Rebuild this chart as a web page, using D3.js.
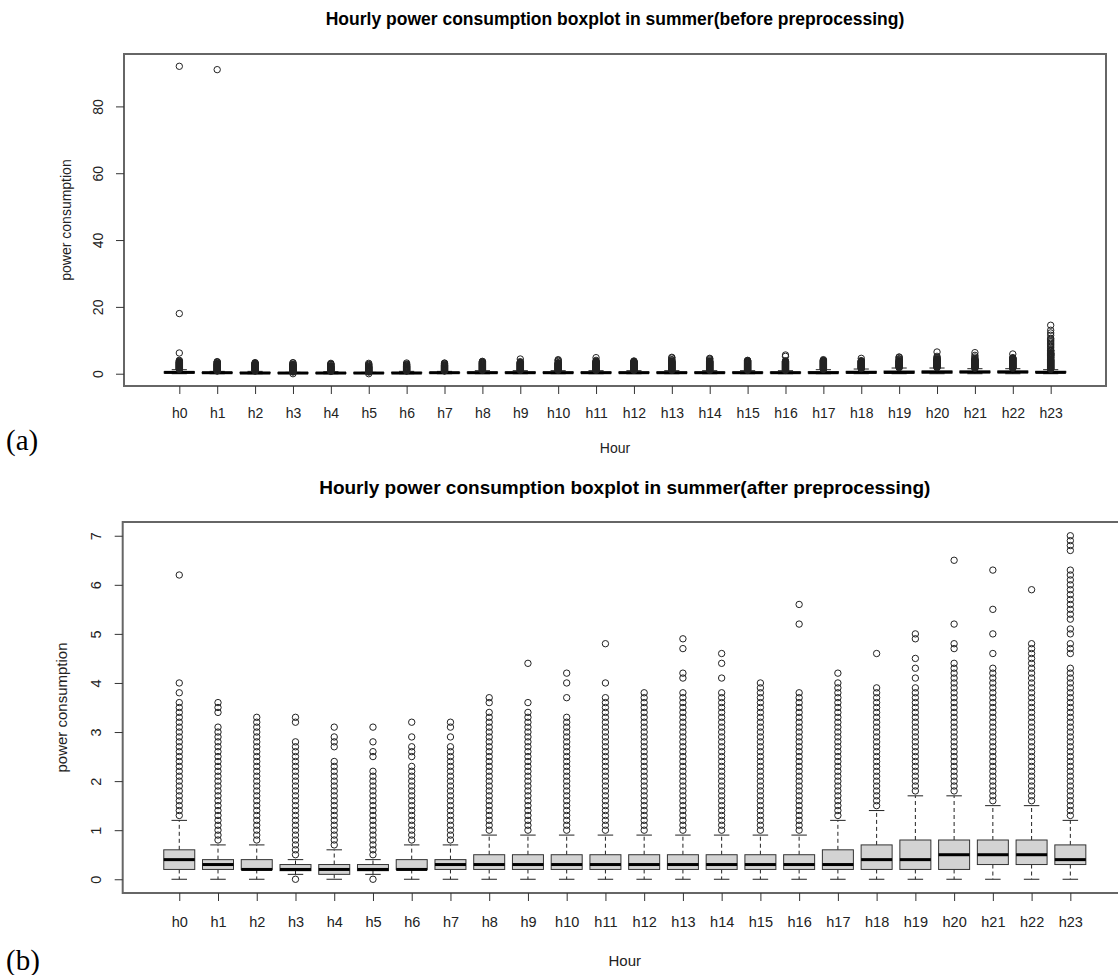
<!DOCTYPE html>
<html>
<head>
<meta charset="utf-8">
<script src="https://cdn.jsdelivr.net/npm/d3@7"></script>
<style>
  body { margin: 0; background: #fff; }
  svg { display: block; font-family: "Liberation Sans", Arial, sans-serif; }
</style>
</head>
<body>
<svg id="chart" width="1118" height="975"></svg>
<script>
// hourly summer consumption, box stats
const hours = ["h0","h1","h2","h3","h4","h5","h6","h7","h8","h9","h10","h11",
               "h12","h13","h14","h15","h16","h17","h18","h19","h20","h21","h22","h23"];

const whiskerLow  = [0, 0, 0, 0.1, 0, 0.1, 0, 0, 0, 0, 0, 0, 0, 0, 0, 0, 0, 0, 0, 0, 0, 0, 0, 0];
const q1          = [0.2, 0.2, 0.2, 0.175, 0.1, 0.175, 0.2, 0.2, 0.2, 0.2, 0.2, 0.2, 0.2, 0.2, 0.2, 0.2, 0.2, 0.2, 0.2, 0.2, 0.2, 0.3, 0.3, 0.3];
const median      = [0.4, 0.3, 0.2, 0.2, 0.2, 0.2, 0.2, 0.3, 0.3, 0.3, 0.3, 0.3, 0.3, 0.3, 0.3, 0.3, 0.3, 0.3, 0.4, 0.4, 0.5, 0.5, 0.5, 0.4];
const q3          = [0.6, 0.4, 0.4, 0.3, 0.3, 0.3, 0.4, 0.4, 0.5, 0.5, 0.5, 0.5, 0.5, 0.5, 0.5, 0.5, 0.5, 0.6, 0.7, 0.8, 0.8, 0.8, 0.8, 0.7];
const whiskerHigh = [1.2, 0.7, 0.7, 0.4, 0.6, 0.4, 0.7, 0.7, 0.9, 0.9, 0.9, 0.9, 0.9, 0.9, 0.9, 0.9, 0.9, 1.2, 1.4, 1.7, 1.7, 1.5, 1.5, 1.2];

// outliers after preprocessing (panel b)
const outliersAfter = [
  [1.3,1.4,1.5,1.6,1.7,1.8,1.9,2.0,2.1,2.2,2.3,2.4,2.5,2.6,2.7,2.8,2.9,3.0,3.1,3.2,3.3,3.4,3.5,3.6,3.8,4.0,6.2],
  [0.8,0.9,1.0,1.1,1.2,1.3,1.4,1.5,1.6,1.7,1.8,1.9,2.0,2.1,2.2,2.3,2.4,2.5,2.6,2.7,2.8,2.9,3.0,3.1,3.4,3.5,3.6],
  [0.8,0.9,1.0,1.1,1.2,1.3,1.4,1.5,1.6,1.7,1.8,1.9,2.0,2.1,2.2,2.3,2.4,2.5,2.6,2.7,2.8,2.9,3.0,3.1,3.2,3.3],
  [0,0.5,0.6,0.7,0.8,0.9,1.0,1.1,1.2,1.3,1.4,1.5,1.6,1.7,1.8,1.9,2.0,2.1,2.2,2.3,2.4,2.5,2.6,2.7,2.8,3.2,3.3],
  [0.7,0.8,0.9,1.0,1.1,1.2,1.3,1.4,1.5,1.6,1.7,1.8,1.9,2.0,2.1,2.2,2.3,2.4,2.7,2.8,2.9,3.1],
  [0,0.5,0.6,0.7,0.8,0.9,1.0,1.1,1.2,1.3,1.4,1.5,1.6,1.7,1.8,1.9,2.0,2.1,2.2,2.5,2.6,2.8,3.1],
  [0.8,0.9,1.0,1.1,1.2,1.3,1.4,1.5,1.6,1.7,1.8,1.9,2.0,2.1,2.2,2.3,2.5,2.6,2.7,2.9,3.2],
  [0.8,0.9,1.0,1.1,1.2,1.3,1.4,1.5,1.6,1.7,1.8,1.9,2.0,2.1,2.2,2.3,2.4,2.5,2.6,2.7,2.9,3.1,3.2],
  [1.0,1.1,1.2,1.3,1.4,1.5,1.6,1.7,1.8,1.9,2.0,2.1,2.2,2.3,2.4,2.5,2.6,2.7,2.8,2.9,3.0,3.1,3.2,3.3,3.4,3.6,3.7],
  [1.0,1.1,1.2,1.3,1.4,1.5,1.6,1.7,1.8,1.9,2.0,2.1,2.2,2.3,2.4,2.5,2.6,2.7,2.8,2.9,3.0,3.1,3.2,3.3,3.4,3.6,4.4],
  [1.0,1.1,1.2,1.3,1.4,1.5,1.6,1.7,1.8,1.9,2.0,2.1,2.2,2.3,2.4,2.5,2.6,2.7,2.8,2.9,3.0,3.1,3.2,3.3,3.7,4.0,4.2],
  [1.0,1.1,1.2,1.3,1.4,1.5,1.6,1.7,1.8,1.9,2.0,2.1,2.2,2.3,2.4,2.5,2.6,2.7,2.8,2.9,3.0,3.1,3.2,3.3,3.4,3.5,3.6,3.7,4.0,4.8],
  [1.0,1.1,1.2,1.3,1.4,1.5,1.6,1.7,1.8,1.9,2.0,2.1,2.2,2.3,2.4,2.5,2.6,2.7,2.8,2.9,3.0,3.1,3.2,3.3,3.4,3.5,3.6,3.7,3.8],
  [1.0,1.1,1.2,1.3,1.4,1.5,1.6,1.7,1.8,1.9,2.0,2.1,2.2,2.3,2.4,2.5,2.6,2.7,2.8,2.9,3.0,3.1,3.2,3.3,3.4,3.5,3.6,3.7,3.8,4.1,4.2,4.7,4.9],
  [1.0,1.1,1.2,1.3,1.4,1.5,1.6,1.7,1.8,1.9,2.0,2.1,2.2,2.3,2.4,2.5,2.6,2.7,2.8,2.9,3.0,3.1,3.2,3.3,3.4,3.5,3.6,3.7,3.8,4.1,4.4,4.6],
  [1.0,1.1,1.2,1.3,1.4,1.5,1.6,1.7,1.8,1.9,2.0,2.1,2.2,2.3,2.4,2.5,2.6,2.7,2.8,2.9,3.0,3.1,3.2,3.3,3.4,3.5,3.6,3.7,3.8,3.9,4.0],
  [1.0,1.1,1.2,1.3,1.4,1.5,1.6,1.7,1.8,1.9,2.0,2.1,2.2,2.3,2.4,2.5,2.6,2.7,2.8,2.9,3.0,3.1,3.2,3.3,3.4,3.5,3.6,3.7,3.8,5.2,5.6],
  [1.3,1.4,1.5,1.6,1.7,1.8,1.9,2.0,2.1,2.2,2.3,2.4,2.5,2.6,2.7,2.8,2.9,3.0,3.1,3.2,3.3,3.4,3.5,3.6,3.7,3.8,3.9,4.0,4.2],
  [1.5,1.6,1.7,1.8,1.9,2.0,2.1,2.2,2.3,2.4,2.5,2.6,2.7,2.8,2.9,3.0,3.1,3.2,3.3,3.4,3.5,3.6,3.7,3.8,3.9,4.6],
  [1.8,1.9,2.0,2.1,2.2,2.3,2.4,2.5,2.6,2.7,2.8,2.9,3.0,3.1,3.2,3.3,3.4,3.5,3.6,3.7,3.8,3.9,4.1,4.3,4.5,4.9,5.0],
  [1.8,1.9,2.0,2.1,2.2,2.3,2.4,2.5,2.6,2.7,2.8,2.9,3.0,3.1,3.2,3.3,3.4,3.5,3.6,3.7,3.8,3.9,4.0,4.1,4.2,4.3,4.4,4.7,4.8,5.2,6.5],
  [1.6,1.7,1.8,1.9,2.0,2.1,2.2,2.3,2.4,2.5,2.6,2.7,2.8,2.9,3.0,3.1,3.2,3.3,3.4,3.5,3.6,3.7,3.8,3.9,4.0,4.1,4.2,4.3,4.6,5.0,5.5,6.3],
  [1.6,1.7,1.8,1.9,2.0,2.1,2.2,2.3,2.4,2.5,2.6,2.7,2.8,2.9,3.0,3.1,3.2,3.3,3.4,3.5,3.6,3.7,3.8,3.9,4.0,4.1,4.2,4.3,4.4,4.5,4.6,4.7,4.8,5.9],
  [1.3,1.4,1.5,1.6,1.7,1.8,1.9,2.0,2.1,2.2,2.3,2.4,2.5,2.6,2.7,2.8,2.9,3.0,3.1,3.2,3.3,3.4,3.5,3.6,3.7,3.8,3.9,4.0,4.1,4.2,4.3,
   4.6,4.7,4.8,5.0,5.1,5.3,5.4,5.5,5.6,5.7,5.8,5.9,6.0,6.1,6.2,6.3,6.7,6.8,6.9,7.0]
];

// extreme values that only appear before preprocessing (panel a)
const removedByPreprocessing = [
  [18, 92], [91], [], [], [], [], [], [], [], [], [], [],
  [], [], [], [], [], [], [], [], [], [], [],
  [7.4, 7.9, 8.3, 8.7, 9.1, 9.5, 9.9, 10.3, 10.6, 11.5, 12.2, 13.0, 14.5]
];

const yTicksBefore = [0, 20, 40, 60, 80];
const yTicksAfter = [0, 1, 2, 3, 4, 5, 6, 7];

const svg = d3.select("#chart");
svg.append("rect").attr("width", 1118).attr("height", 975).attr("fill", "#fff");

const panels = [
  {
    outliers: outliersAfter.map((d, i) => d.concat(removedByPreprocessing[i])),
    yTicks: yTicksBefore,
    left: 124, right: 1106, top: 54, bottom: 386,
    title: "Hourly power consumption boxplot in summer(before preprocessing)",
    titleSize: 17.5, titleY: 25, labelSize: 14, tickSize: 14,
    hourY: 453, yTitleX: 71, xTickPad: 14, yTickX: 21,
    tag: "(a)", tagY: 450
  },
  {
    outliers: outliersAfter,
    yTicks: yTicksAfter,
    left: 122.7, right: 1126.9, top: 522, bottom: 893,
    title: "Hourly power consumption boxplot in summer(after preprocessing)",
    titleSize: 19, titleY: 494, labelSize: 15, tickSize: 14.5,
    hourY: 966, yTitleX: 67, xTickPad: 16, yTickX: 22,
    tag: "(b)", tagY: 970
  }
];

panels.forEach(p => drawPanel(p));

function drawPanel(p) {
  const g = svg.append("g");

  // R style: 1..24 with 4% extension of [0.5, 24.5]
  const x = d3.scaleLinear().domain([-0.46, 25.46]).range([p.left, p.right]);

  const allVals = p.outliers.flat().concat(whiskerLow, whiskerHigh);
  const [lo, hi] = d3.extent(allVals);
  const pad = (hi - lo) * 0.04;
  const y = d3.scaleLinear().domain([lo - pad, hi + pad]).range([p.bottom, p.top]);

  const boxes = g.selectAll(".box")
    .data(hours.map((h, i) => ({
      h, pos: i + 1, lo: whiskerLow[i], q1: q1[i], med: median[i],
      q3: q3[i], hi: whiskerHigh[i], out: p.outliers[i]
    })))
    .enter().append("g").attr("class", "box");

  // whiskers
  boxes.append("line")
    .attr("x1", d => x(d.pos)).attr("x2", d => x(d.pos))
    .attr("y1", d => y(d.q3)).attr("y2", d => y(d.hi))
    .attr("stroke", "#222").attr("stroke-dasharray", "4,3");
  boxes.append("line")
    .attr("x1", d => x(d.pos)).attr("x2", d => x(d.pos))
    .attr("y1", d => y(d.q1)).attr("y2", d => y(d.lo))
    .attr("stroke", "#222").attr("stroke-dasharray", "4,3");

  // staples
  [d => d.hi, d => d.lo].forEach(f => {
    boxes.append("line")
      .attr("x1", d => x(d.pos - 0.2)).attr("x2", d => x(d.pos + 0.2))
      .attr("y1", d => y(f(d))).attr("y2", d => y(f(d)))
      .attr("stroke", "#222");
  });

  boxes.append("rect")
    .attr("x", d => x(d.pos - 0.4))
    .attr("width", d => x(d.pos + 0.4) - x(d.pos - 0.4))
    .attr("y", d => y(d.q3))
    .attr("height", d => Math.max(y(d.q1) - y(d.q3), 0.5))
    .attr("fill", "#d3d3d3").attr("stroke", "#333");

  boxes.append("line")
    .attr("x1", d => x(d.pos - 0.4)).attr("x2", d => x(d.pos + 0.4))
    .attr("y1", d => y(d.med)).attr("y2", d => y(d.med))
    .attr("stroke", "#000").attr("stroke-width", 3);

  boxes.selectAll("circle")
    .data(d => d.out.map(v => ({ pos: d.pos, v })))
    .enter().append("circle")
    .attr("cx", d => x(d.pos))
    .attr("cy", d => y(d.v))
    .attr("r", 3.2)
    .attr("fill", "none").attr("stroke", "#222").attr("stroke-width", 1);

  // plot frame
  g.append("rect")
    .attr("x", p.left).attr("y", p.top)
    .attr("width", p.right - p.left).attr("height", p.bottom - p.top)
    .attr("fill", "none").attr("stroke", "#666").attr("stroke-width", 2);

  // x axis
  const xa = g.append("g")
    .attr("transform", `translate(0,${p.bottom})`)
    .call(d3.axisBottom(x).tickValues(d3.range(1, 25))
      .tickFormat(d => hours[d - 1]).tickSize(8).tickPadding(p.xTickPad));
  xa.select(".domain").remove();
  xa.selectAll("line").attr("stroke", "#333");
  xa.selectAll("text").style("font-size", p.tickSize + "px").attr("fill", "#222");

  // y axis, labels parallel to the axis
  const ya = g.append("g")
    .attr("transform", `translate(${p.left},0)`)
    .call(d3.axisLeft(y).tickValues(p.yTicks).tickSize(8));
  ya.select(".domain").remove();
  ya.selectAll("line").attr("stroke", "#333");
  ya.selectAll("text")
    .attr("x", null).attr("dy", null)
    .attr("text-anchor", "middle")
    .attr("transform", `translate(${-p.yTickX},0) rotate(-90)`)
    .style("font-size", p.tickSize + "px").attr("fill", "#222");

  // titles
  svg.append("text")
    .attr("x", (p.left + p.right) / 2).attr("y", p.titleY)
    .attr("text-anchor", "middle")
    .style("font-size", p.titleSize + "px").style("font-weight", "bold")
    .text(p.title);

  svg.append("text")
    .attr("x", (p.left + p.right) / 2).attr("y", p.hourY)
    .attr("text-anchor", "middle")
    .style("font-size", p.labelSize + "px").attr("fill", "#222")
    .text("Hour");

  svg.append("text")
    .attr("transform", `translate(${p.yTitleX},${(p.top + p.bottom) / 2}) rotate(-90)`)
    .attr("text-anchor", "middle")
    .style("font-size", p.labelSize + "px").attr("fill", "#222")
    .text("power consumption");

  svg.append("text")
    .attr("x", 6).attr("y", p.tagY)
    .style("font-family", "'Liberation Serif', 'DejaVu Serif', serif")
    .style("font-size", "29px")
    .text(p.tag);
}
</script>
</body>
</html>
